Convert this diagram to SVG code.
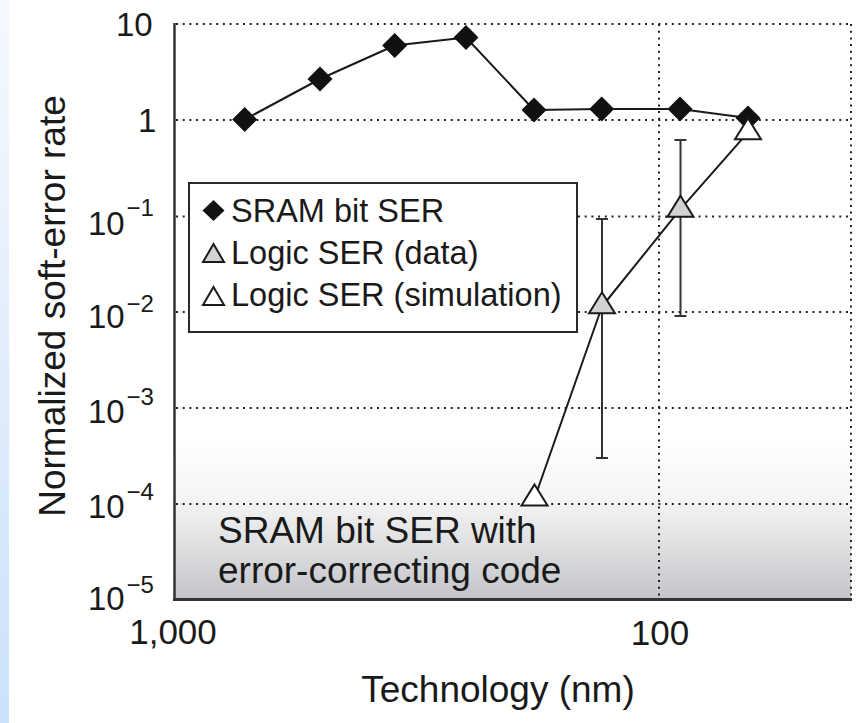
<svg xmlns="http://www.w3.org/2000/svg" width="858" height="723" viewBox="0 0 858 723">
<defs>
<linearGradient id="strip" x1="0" y1="0" x2="0" y2="1">
<stop offset="0" stop-color="#f5f9fe"/>
<stop offset="1" stop-color="#cce1fb"/>
</linearGradient>
<linearGradient id="shade" x1="0" y1="0" x2="0" y2="1">
<stop offset="0" stop-color="#f3f3f3"/>
<stop offset="1" stop-color="#c3c4c8"/>
</linearGradient>
<linearGradient id="fade" x1="0" y1="0" x2="0" y2="1">
<stop offset="0" stop-color="#ffffff"/>
<stop offset="1" stop-color="#f4f4f4"/>
</linearGradient>
<path id="dia" d="M0,-12.5 L12.5,0 L0,12.5 L-12.5,0 Z"/>
<path id="tri" d="M0,-21 L13,0 L-13,0 Z"/>
<path id="dia-s" d="M0,-10.5 L11,0 L0,10.5 L-11,0 Z"/>
<path id="tri-s" d="M0,-18 L10.5,0 L-10.5,0 Z"/>
</defs>
<style>
text{font-family:"Liberation Sans",Arial,sans-serif;fill:#1a1a1a}
.grid{stroke:#222;stroke-width:2;stroke-dasharray:2 4.7;fill:none}
.axis{stroke:#333;fill:none}
.tick{font-size:33px}
.sup{font-size:24px}
.xt{font-size:35px;text-anchor:middle}
.title{font-size:37px}
.leg{font-size:32.5px}
.series{stroke:#1a1a1a;stroke-width:2;fill:none;stroke-linejoin:round}
.err{stroke:#333;stroke-width:2;fill:none}
.sram{fill:#111}
.data{fill:#d2d2d2;stroke:#1a1a1a;stroke-width:2;stroke-linejoin:miter}
.sim{fill:#fff;stroke:#1a1a1a;stroke-width:2;stroke-linejoin:miter}
</style>
<rect x="0" y="0" width="858" height="723" fill="#fff"/>
<rect x="0" y="0" width="9" height="723" fill="url(#strip)"/>

<g id="ecc-region">
<rect x="175" y="440" width="676" height="64" fill="url(#fade)"/>
<rect x="175" y="504" width="676" height="96" fill="url(#shade)"/>
<text x="218" y="543" class="title">SRAM bit SER with</text>
<text x="218" y="583" class="title">error-correcting code</text>
</g>

<g id="grid">
<line class="grid" x1="176" y1="24" x2="851" y2="24"/>
<line class="grid" x1="176" y1="120" x2="851" y2="120"/>
<line class="grid" x1="176" y1="216.5" x2="851" y2="216.5"/>
<line class="grid" x1="176" y1="312" x2="851" y2="312"/>
<line class="grid" x1="176" y1="408" x2="851" y2="408"/>
<line class="grid" x1="176" y1="504" x2="851" y2="504"/>
<line class="grid" x1="659" y1="24" x2="659" y2="598"/>
<line class="grid" x1="851" y1="24" x2="851" y2="598"/>
</g>

<g id="axes">
<line class="axis" stroke-width="2.5" x1="174.5" y1="23" x2="174.5" y2="600"/>
<line class="axis" stroke-width="3" x1="173" y1="599.5" x2="852" y2="599.5"/>
</g>

<g id="legend">
<rect x="189" y="183" width="388" height="149" fill="#fff" stroke="#2a2a2a" stroke-width="2"/>
<use href="#dia-s" x="213.5" y="210.5" class="sram"/>
<use href="#tri-s" x="213.5" y="262" class="data"/>
<use href="#tri-s" x="213.5" y="305" class="sim"/>
<text x="231" y="222" class="leg">SRAM bit SER</text>
<text x="231" y="264" class="leg">Logic SER (data)</text>
<text x="231" y="306" class="leg">Logic SER (simulation)</text>
</g>

<g id="connectors">
<polyline id="sram-line" class="series" points="244.7,119.5 320,79 394.7,45.5 466,37.5 534,110 601.7,109 680,109 748,118"/>
<polyline id="logic-line" class="series" points="534.5,498.5 602,306.5 680,209.7 748,132.3"/>
<g id="errorbars" class="err">
<line x1="602" y1="219" x2="602" y2="458"/>
<line x1="596" y1="219" x2="608" y2="219"/>
<line x1="596" y1="458" x2="608" y2="458"/>
<line x1="680.5" y1="140" x2="680.5" y2="316"/>
<line x1="674.5" y1="140" x2="686.5" y2="140"/>
<line x1="674.5" y1="316" x2="686.5" y2="316"/>
</g>
</g>

<g id="sram-points" class="sram">
<use id="s1" href="#dia" x="244.7" y="119.5"/>
<use id="s2" href="#dia" x="320" y="79"/>
<use id="s3" href="#dia" x="394.7" y="45.5"/>
<use id="s4" href="#dia" x="466" y="37.5"/>
<use id="s5" href="#dia" x="534" y="110"/>
<use id="s6" href="#dia" x="601.7" y="109"/>
<use id="s7" href="#dia" x="680" y="109"/>
<use id="s8" href="#dia" x="748" y="118"/>
</g>

<g id="logic-points">
<use id="d1" href="#tri" x="602" y="313.3" class="data"/>
<use id="d2" href="#tri" x="680.5" y="216.7" class="data"/>
<use id="m1" href="#tri" x="534.5" y="505.5" class="sim"/>
<use id="m2" href="#tri" x="748" y="139.3" class="sim"/>
</g>

<g id="y-ticks">
<text x="116" y="36" class="tick">10</text>
<text x="138" y="131.5" class="tick">1</text>
<text x="88" y="235" class="tick">10</text><text x="126.5" y="215.5" class="sup">−1</text>
<text x="88" y="328.3" class="tick">10</text><text x="126.5" y="311.5" class="sup">−2</text>
<text x="88" y="423" class="tick">10</text><text x="126.5" y="405" class="sup">−3</text>
<text x="88" y="518" class="tick">10</text><text x="126.5" y="500" class="sup">−4</text>
<text x="88" y="610" class="tick">10</text><text x="126.5" y="593" class="sup">−5</text>
</g>

<g id="x-ticks">
<text x="173" y="644" class="xt">1,000</text>
<text x="660" y="645" class="xt">100</text>
</g>

<g id="titles">
<text x="498" y="701.5" class="title" text-anchor="middle">Technology (nm)</text>
<text transform="translate(65,306) rotate(-90)" class="title" text-anchor="middle">Normalized soft-error rate</text>
</g>
</svg>
